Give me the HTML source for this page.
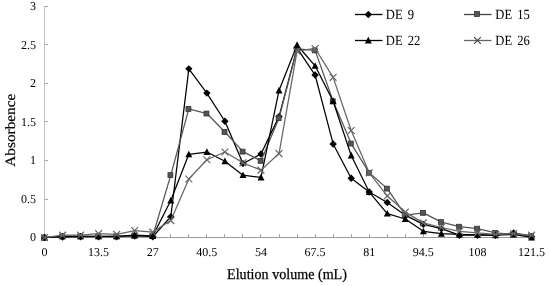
<!DOCTYPE html>
<html><head><meta charset="utf-8"><style>
html,body{margin:0;padding:0;background:#fff;width:550px;height:286px;overflow:hidden}
svg{display:block;text-rendering:geometricPrecision}
.t{font-family:"Liberation Serif",serif;font-size:12px;fill:#000}
.lg{font-family:"Liberation Serif",serif;font-size:14px;fill:#000}
.ttl{font-family:"Liberation Serif",serif;font-size:15px;fill:#000;stroke:#000;stroke-width:0.25px}
.ttl2{font-family:"Liberation Serif",serif;font-size:15.3px;fill:#000;stroke:#000;stroke-width:0.2px}
</style></head><body>
<svg width="550" height="286" viewBox="0 0 550 286">
<line x1="44.5" y1="6" x2="44.5" y2="237.5" stroke="#c4c4c4" stroke-width="1"/>
<line x1="44.5" y1="237.50" x2="48" y2="237.50" stroke="#a8a8a8" stroke-width="1"/>
<line x1="44.5" y1="199.50" x2="48" y2="199.50" stroke="#a8a8a8" stroke-width="1"/>
<line x1="44.5" y1="160.50" x2="48" y2="160.50" stroke="#a8a8a8" stroke-width="1"/>
<line x1="44.5" y1="121.50" x2="48" y2="121.50" stroke="#a8a8a8" stroke-width="1"/>
<line x1="44.5" y1="83.50" x2="48" y2="83.50" stroke="#a8a8a8" stroke-width="1"/>
<line x1="44.5" y1="44.50" x2="48" y2="44.50" stroke="#a8a8a8" stroke-width="1"/>
<line x1="44.5" y1="6.50" x2="48" y2="6.50" stroke="#a8a8a8" stroke-width="1"/>
<text x="36" y="241.20" text-anchor="end" class="t">0</text>
<text x="36" y="202.70" text-anchor="end" class="t">0.5</text>
<text x="36" y="164.20" text-anchor="end" class="t">1</text>
<text x="36" y="125.70" text-anchor="end" class="t">1.5</text>
<text x="36" y="87.20" text-anchor="end" class="t">2</text>
<text x="36" y="48.70" text-anchor="end" class="t">2.5</text>
<text x="36" y="10.20" text-anchor="end" class="t">3</text>
<line x1="44" y1="237.5" x2="533" y2="237.5" stroke="#9a9a9a" stroke-width="1"/>
<line x1="44.50" y1="234" x2="44.50" y2="237" stroke="#a0a0a0" stroke-width="1"/>
<line x1="62.50" y1="234" x2="62.50" y2="237" stroke="#a0a0a0" stroke-width="1"/>
<line x1="80.50" y1="234" x2="80.50" y2="237" stroke="#a0a0a0" stroke-width="1"/>
<line x1="98.50" y1="234" x2="98.50" y2="237" stroke="#a0a0a0" stroke-width="1"/>
<line x1="116.50" y1="234" x2="116.50" y2="237" stroke="#a0a0a0" stroke-width="1"/>
<line x1="134.50" y1="234" x2="134.50" y2="237" stroke="#a0a0a0" stroke-width="1"/>
<line x1="152.50" y1="234" x2="152.50" y2="237" stroke="#a0a0a0" stroke-width="1"/>
<line x1="170.50" y1="234" x2="170.50" y2="237" stroke="#a0a0a0" stroke-width="1"/>
<line x1="188.50" y1="234" x2="188.50" y2="237" stroke="#a0a0a0" stroke-width="1"/>
<line x1="206.50" y1="234" x2="206.50" y2="237" stroke="#a0a0a0" stroke-width="1"/>
<line x1="224.50" y1="234" x2="224.50" y2="237" stroke="#a0a0a0" stroke-width="1"/>
<line x1="242.50" y1="234" x2="242.50" y2="237" stroke="#a0a0a0" stroke-width="1"/>
<line x1="260.50" y1="234" x2="260.50" y2="237" stroke="#a0a0a0" stroke-width="1"/>
<line x1="279.50" y1="234" x2="279.50" y2="237" stroke="#a0a0a0" stroke-width="1"/>
<line x1="297.50" y1="234" x2="297.50" y2="237" stroke="#a0a0a0" stroke-width="1"/>
<line x1="315.50" y1="234" x2="315.50" y2="237" stroke="#a0a0a0" stroke-width="1"/>
<line x1="333.50" y1="234" x2="333.50" y2="237" stroke="#a0a0a0" stroke-width="1"/>
<line x1="351.50" y1="234" x2="351.50" y2="237" stroke="#a0a0a0" stroke-width="1"/>
<line x1="369.50" y1="234" x2="369.50" y2="237" stroke="#a0a0a0" stroke-width="1"/>
<line x1="387.50" y1="234" x2="387.50" y2="237" stroke="#a0a0a0" stroke-width="1"/>
<line x1="405.50" y1="234" x2="405.50" y2="237" stroke="#a0a0a0" stroke-width="1"/>
<line x1="423.50" y1="234" x2="423.50" y2="237" stroke="#a0a0a0" stroke-width="1"/>
<line x1="441.50" y1="234" x2="441.50" y2="237" stroke="#a0a0a0" stroke-width="1"/>
<line x1="459.50" y1="234" x2="459.50" y2="237" stroke="#a0a0a0" stroke-width="1"/>
<line x1="477.50" y1="234" x2="477.50" y2="237" stroke="#a0a0a0" stroke-width="1"/>
<line x1="495.50" y1="234" x2="495.50" y2="237" stroke="#a0a0a0" stroke-width="1"/>
<line x1="513.50" y1="234" x2="513.50" y2="237" stroke="#a0a0a0" stroke-width="1"/>
<line x1="531.50" y1="234" x2="531.50" y2="237" stroke="#a0a0a0" stroke-width="1"/>
<text x="44.50" y="256.4" text-anchor="middle" class="t">0</text>
<text x="98.62" y="256.4" text-anchor="middle" class="t">13.5</text>
<text x="152.74" y="256.4" text-anchor="middle" class="t">27</text>
<text x="206.87" y="256.4" text-anchor="middle" class="t">40.5</text>
<text x="260.99" y="256.4" text-anchor="middle" class="t">54</text>
<text x="315.11" y="256.4" text-anchor="middle" class="t">67.5</text>
<text x="369.23" y="256.4" text-anchor="middle" class="t">81</text>
<text x="423.36" y="256.4" text-anchor="middle" class="t">94.5</text>
<text x="477.48" y="256.4" text-anchor="middle" class="t">108</text>
<text x="531.60" y="256.4" text-anchor="middle" class="t">121.5</text>
<polyline points="44.50,237.50 62.54,237.12 80.58,236.73 98.62,236.73 116.66,236.73 134.70,235.96 152.74,236.73 170.79,216.71 188.83,68.87 206.87,93.12 224.91,121.23 242.95,163.58 260.99,153.95 279.03,116.61 297.07,48.08 315.11,75.03 333.15,143.94 351.19,178.21 369.23,192.07 387.27,202.47 405.31,215.17 423.36,224.41 441.40,228.65 459.44,235.19 477.48,235.19 495.52,235.19 513.56,232.88 531.60,236.73" fill="none" stroke="#000" stroke-width="1.25" stroke-linejoin="round"/>
<path d="M44.50 233.80L48.20 237.50L44.50 241.20L40.80 237.50Z" fill="#000"/>
<path d="M62.54 233.42L66.24 237.12L62.54 240.81L58.84 237.12Z" fill="#000"/>
<path d="M80.58 233.03L84.28 236.73L80.58 240.43L76.88 236.73Z" fill="#000"/>
<path d="M98.62 233.03L102.32 236.73L98.62 240.43L94.92 236.73Z" fill="#000"/>
<path d="M116.66 233.03L120.36 236.73L116.66 240.43L112.96 236.73Z" fill="#000"/>
<path d="M134.70 232.26L138.40 235.96L134.70 239.66L131.00 235.96Z" fill="#000"/>
<path d="M152.74 233.03L156.44 236.73L152.74 240.43L149.04 236.73Z" fill="#000"/>
<path d="M170.79 213.01L174.49 216.71L170.79 220.41L167.09 216.71Z" fill="#000"/>
<path d="M188.83 65.17L192.53 68.87L188.83 72.57L185.13 68.87Z" fill="#000"/>
<path d="M206.87 89.42L210.57 93.12L206.87 96.83L203.17 93.12Z" fill="#000"/>
<path d="M224.91 117.53L228.61 121.23L224.91 124.93L221.21 121.23Z" fill="#000"/>
<path d="M242.95 159.88L246.65 163.58L242.95 167.28L239.25 163.58Z" fill="#000"/>
<path d="M260.99 150.25L264.69 153.95L260.99 157.65L257.29 153.95Z" fill="#000"/>
<path d="M279.03 112.91L282.73 116.61L279.03 120.31L275.33 116.61Z" fill="#000"/>
<path d="M297.07 44.38L300.77 48.08L297.07 51.78L293.37 48.08Z" fill="#000"/>
<path d="M315.11 71.33L318.81 75.03L315.11 78.73L311.41 75.03Z" fill="#000"/>
<path d="M333.15 140.25L336.85 143.94L333.15 147.64L329.45 143.94Z" fill="#000"/>
<path d="M351.19 174.51L354.89 178.21L351.19 181.91L347.49 178.21Z" fill="#000"/>
<path d="M369.23 188.37L372.93 192.07L369.23 195.77L365.53 192.07Z" fill="#000"/>
<path d="M387.27 198.77L390.97 202.47L387.27 206.16L383.57 202.47Z" fill="#000"/>
<path d="M405.31 211.47L409.01 215.17L405.31 218.87L401.61 215.17Z" fill="#000"/>
<path d="M423.36 220.71L427.06 224.41L423.36 228.11L419.66 224.41Z" fill="#000"/>
<path d="M441.40 224.95L445.10 228.65L441.40 232.34L437.70 228.65Z" fill="#000"/>
<path d="M459.44 231.49L463.14 235.19L459.44 238.89L455.74 235.19Z" fill="#000"/>
<path d="M477.48 231.49L481.18 235.19L477.48 238.89L473.78 235.19Z" fill="#000"/>
<path d="M495.52 231.49L499.22 235.19L495.52 238.89L491.82 235.19Z" fill="#000"/>
<path d="M513.56 229.18L517.26 232.88L513.56 236.58L509.86 232.88Z" fill="#000"/>
<path d="M531.60 233.03L535.30 236.73L531.60 240.43L527.90 236.73Z" fill="#000"/>
<polyline points="44.50,237.50 62.54,236.34 80.58,236.34 98.62,236.34 116.66,236.34 134.70,235.96 152.74,235.96 170.79,175.13 188.83,108.91 206.87,113.53 224.91,132.01 242.95,151.64 260.99,160.88 279.03,118.15 297.07,48.85 315.11,50.39 333.15,101.21 351.19,143.56 369.23,172.82 387.27,188.60 405.31,215.17 423.36,212.86 441.40,222.10 459.44,226.72 477.48,228.65 495.52,232.88 513.56,234.42 531.60,235.96" fill="none" stroke="#555" stroke-width="1.25" stroke-linejoin="round"/>
<rect x="41.65" y="235.05" width="4.90" height="4.90" fill="#555" stroke="#333" stroke-width="0.8"/>
<rect x="59.69" y="233.90" width="4.90" height="4.90" fill="#555" stroke="#333" stroke-width="0.8"/>
<rect x="77.73" y="233.90" width="4.90" height="4.90" fill="#555" stroke="#333" stroke-width="0.8"/>
<rect x="95.77" y="233.90" width="4.90" height="4.90" fill="#555" stroke="#333" stroke-width="0.8"/>
<rect x="113.81" y="233.90" width="4.90" height="4.90" fill="#555" stroke="#333" stroke-width="0.8"/>
<rect x="131.85" y="233.51" width="4.90" height="4.90" fill="#555" stroke="#333" stroke-width="0.8"/>
<rect x="149.89" y="233.51" width="4.90" height="4.90" fill="#555" stroke="#333" stroke-width="0.8"/>
<rect x="167.94" y="172.68" width="4.90" height="4.90" fill="#555" stroke="#333" stroke-width="0.8"/>
<rect x="185.98" y="106.46" width="4.90" height="4.90" fill="#555" stroke="#333" stroke-width="0.8"/>
<rect x="204.02" y="111.08" width="4.90" height="4.90" fill="#555" stroke="#333" stroke-width="0.8"/>
<rect x="222.06" y="129.56" width="4.90" height="4.90" fill="#555" stroke="#333" stroke-width="0.8"/>
<rect x="240.10" y="149.19" width="4.90" height="4.90" fill="#555" stroke="#333" stroke-width="0.8"/>
<rect x="258.14" y="158.44" width="4.90" height="4.90" fill="#555" stroke="#333" stroke-width="0.8"/>
<rect x="276.18" y="115.70" width="4.90" height="4.90" fill="#555" stroke="#333" stroke-width="0.8"/>
<rect x="294.22" y="46.40" width="4.90" height="4.90" fill="#555" stroke="#333" stroke-width="0.8"/>
<rect x="312.26" y="47.94" width="4.90" height="4.90" fill="#555" stroke="#333" stroke-width="0.8"/>
<rect x="330.30" y="98.76" width="4.90" height="4.90" fill="#555" stroke="#333" stroke-width="0.8"/>
<rect x="348.34" y="141.11" width="4.90" height="4.90" fill="#555" stroke="#333" stroke-width="0.8"/>
<rect x="366.38" y="170.37" width="4.90" height="4.90" fill="#555" stroke="#333" stroke-width="0.8"/>
<rect x="384.42" y="186.16" width="4.90" height="4.90" fill="#555" stroke="#333" stroke-width="0.8"/>
<rect x="402.46" y="212.72" width="4.90" height="4.90" fill="#555" stroke="#333" stroke-width="0.8"/>
<rect x="420.51" y="210.41" width="4.90" height="4.90" fill="#555" stroke="#333" stroke-width="0.8"/>
<rect x="438.55" y="219.65" width="4.90" height="4.90" fill="#555" stroke="#333" stroke-width="0.8"/>
<rect x="456.59" y="224.27" width="4.90" height="4.90" fill="#555" stroke="#333" stroke-width="0.8"/>
<rect x="474.63" y="226.20" width="4.90" height="4.90" fill="#555" stroke="#333" stroke-width="0.8"/>
<rect x="492.67" y="230.43" width="4.90" height="4.90" fill="#555" stroke="#333" stroke-width="0.8"/>
<rect x="510.71" y="231.97" width="4.90" height="4.90" fill="#555" stroke="#333" stroke-width="0.8"/>
<rect x="528.75" y="233.51" width="4.90" height="4.90" fill="#555" stroke="#333" stroke-width="0.8"/>
<polyline points="44.50,237.50 62.54,236.34 80.58,236.34 98.62,236.34 116.66,236.34 134.70,235.19 152.74,235.96 170.79,200.54 188.83,154.34 206.87,152.03 224.91,161.27 242.95,175.13 260.99,177.44 279.03,90.43 297.07,45.00 315.11,65.79 333.15,101.21 351.19,155.50 369.23,192.07 387.27,213.63 405.31,219.02 423.36,231.34 441.40,233.65 459.44,234.42 477.48,234.81 495.52,235.19 513.56,234.42 531.60,237.50" fill="none" stroke="#000" stroke-width="1.25" stroke-linejoin="round"/>
<path d="M44.50 233.84L48.00 240.49L41.00 240.49Z" fill="#000"/>
<path d="M62.54 232.69L66.04 239.34L59.04 239.34Z" fill="#000"/>
<path d="M80.58 232.69L84.08 239.34L77.08 239.34Z" fill="#000"/>
<path d="M98.62 232.69L102.12 239.34L95.12 239.34Z" fill="#000"/>
<path d="M116.66 232.69L120.16 239.34L113.16 239.34Z" fill="#000"/>
<path d="M134.70 231.53L138.20 238.18L131.20 238.18Z" fill="#000"/>
<path d="M152.74 232.30L156.24 238.95L149.24 238.95Z" fill="#000"/>
<path d="M170.79 196.88L174.29 203.53L167.29 203.53Z" fill="#000"/>
<path d="M188.83 150.68L192.33 157.33L185.33 157.33Z" fill="#000"/>
<path d="M206.87 148.37L210.37 155.02L203.37 155.02Z" fill="#000"/>
<path d="M224.91 157.61L228.41 164.26L221.41 164.26Z" fill="#000"/>
<path d="M242.95 171.47L246.45 178.12L239.45 178.12Z" fill="#000"/>
<path d="M260.99 173.78L264.49 180.43L257.49 180.43Z" fill="#000"/>
<path d="M279.03 86.77L282.53 93.42L275.53 93.42Z" fill="#000"/>
<path d="M297.07 41.34L300.57 47.99L293.57 47.99Z" fill="#000"/>
<path d="M315.11 62.13L318.61 68.78L311.61 68.78Z" fill="#000"/>
<path d="M333.15 97.55L336.65 104.20L329.65 104.20Z" fill="#000"/>
<path d="M351.19 151.84L354.69 158.49L347.69 158.49Z" fill="#000"/>
<path d="M369.23 188.41L372.73 195.06L365.73 195.06Z" fill="#000"/>
<path d="M387.27 209.97L390.77 216.62L383.77 216.62Z" fill="#000"/>
<path d="M405.31 215.36L408.81 222.01L401.81 222.01Z" fill="#000"/>
<path d="M423.36 227.68L426.86 234.33L419.86 234.33Z" fill="#000"/>
<path d="M441.40 229.99L444.90 236.64L437.90 236.64Z" fill="#000"/>
<path d="M459.44 230.76L462.94 237.41L455.94 237.41Z" fill="#000"/>
<path d="M477.48 231.15L480.98 237.80L473.98 237.80Z" fill="#000"/>
<path d="M495.52 231.53L499.02 238.18L492.02 238.18Z" fill="#000"/>
<path d="M513.56 230.76L517.06 237.41L510.06 237.41Z" fill="#000"/>
<path d="M531.60 233.84L535.10 240.49L528.10 240.49Z" fill="#000"/>
<polyline points="44.50,237.50 62.54,235.19 80.58,235.19 98.62,233.65 116.66,234.42 134.70,230.57 152.74,232.11 170.79,220.56 188.83,178.98 206.87,159.73 224.91,152.03 242.95,162.81 260.99,170.12 279.03,153.57 297.07,51.16 315.11,48.47 333.15,77.34 351.19,130.47 369.23,172.82 387.27,195.92 405.31,212.09 423.36,222.87 441.40,227.49 459.44,231.34 477.48,232.88 495.52,234.42 513.56,233.65 531.60,235.19" fill="none" stroke="#666666" stroke-width="1.25" stroke-linejoin="round"/>
<path d="M41.10 234.10L47.90 240.90M41.10 240.90L47.90 234.10" stroke="#666666" stroke-width="1.20" fill="none"/>
<path d="M59.14 231.79L65.94 238.59M59.14 238.59L65.94 231.79" stroke="#666666" stroke-width="1.20" fill="none"/>
<path d="M77.18 231.79L83.98 238.59M77.18 238.59L83.98 231.79" stroke="#666666" stroke-width="1.20" fill="none"/>
<path d="M95.22 230.25L102.02 237.05M95.22 237.05L102.02 230.25" stroke="#666666" stroke-width="1.20" fill="none"/>
<path d="M113.26 231.02L120.06 237.82M113.26 237.82L120.06 231.02" stroke="#666666" stroke-width="1.20" fill="none"/>
<path d="M131.30 227.17L138.10 233.97M131.30 233.97L138.10 227.17" stroke="#666666" stroke-width="1.20" fill="none"/>
<path d="M149.34 228.71L156.14 235.51M149.34 235.51L156.14 228.71" stroke="#666666" stroke-width="1.20" fill="none"/>
<path d="M167.39 217.16L174.19 223.96M167.39 223.96L174.19 217.16" stroke="#666666" stroke-width="1.20" fill="none"/>
<path d="M185.43 175.58L192.23 182.38M185.43 182.38L192.23 175.58" stroke="#666666" stroke-width="1.20" fill="none"/>
<path d="M203.47 156.33L210.27 163.13M203.47 163.13L210.27 156.33" stroke="#666666" stroke-width="1.20" fill="none"/>
<path d="M221.51 148.63L228.31 155.43M221.51 155.43L228.31 148.63" stroke="#666666" stroke-width="1.20" fill="none"/>
<path d="M239.55 159.41L246.35 166.21M239.55 166.21L246.35 159.41" stroke="#666666" stroke-width="1.20" fill="none"/>
<path d="M257.59 166.72L264.39 173.53M257.59 173.53L264.39 166.72" stroke="#666666" stroke-width="1.20" fill="none"/>
<path d="M275.63 150.17L282.43 156.97M275.63 156.97L282.43 150.17" stroke="#666666" stroke-width="1.20" fill="none"/>
<path d="M293.67 47.76L300.47 54.56M293.67 54.56L300.47 47.76" stroke="#666666" stroke-width="1.20" fill="none"/>
<path d="M311.71 45.07L318.51 51.87M311.71 51.87L318.51 45.07" stroke="#666666" stroke-width="1.20" fill="none"/>
<path d="M329.75 73.94L336.55 80.74M329.75 80.74L336.55 73.94" stroke="#666666" stroke-width="1.20" fill="none"/>
<path d="M347.79 127.07L354.59 133.87M347.79 133.87L354.59 127.07" stroke="#666666" stroke-width="1.20" fill="none"/>
<path d="M365.83 169.42L372.63 176.22M365.83 176.22L372.63 169.42" stroke="#666666" stroke-width="1.20" fill="none"/>
<path d="M383.87 192.52L390.67 199.32M383.87 199.32L390.67 192.52" stroke="#666666" stroke-width="1.20" fill="none"/>
<path d="M401.91 208.69L408.71 215.49M401.91 215.49L408.71 208.69" stroke="#666666" stroke-width="1.20" fill="none"/>
<path d="M419.96 219.47L426.76 226.27M419.96 226.27L426.76 219.47" stroke="#666666" stroke-width="1.20" fill="none"/>
<path d="M438.00 224.09L444.80 230.89M438.00 230.89L444.80 224.09" stroke="#666666" stroke-width="1.20" fill="none"/>
<path d="M456.04 227.94L462.84 234.74M456.04 234.74L462.84 227.94" stroke="#666666" stroke-width="1.20" fill="none"/>
<path d="M474.08 229.48L480.88 236.28M474.08 236.28L480.88 229.48" stroke="#666666" stroke-width="1.20" fill="none"/>
<path d="M492.12 231.02L498.92 237.82M492.12 237.82L498.92 231.02" stroke="#666666" stroke-width="1.20" fill="none"/>
<path d="M510.16 230.25L516.96 237.05M510.16 237.05L516.96 230.25" stroke="#666666" stroke-width="1.20" fill="none"/>
<path d="M528.20 231.79L535.00 238.59M528.20 238.59L535.00 231.79" stroke="#666666" stroke-width="1.20" fill="none"/>
<line x1="355.00" y1="14.50" x2="382.50" y2="14.50" stroke="#000" stroke-width="1.3"/>
<path d="M368.30 10.80L372.00 14.50L368.30 18.20L364.60 14.50Z" fill="#000"/>
<line x1="355.00" y1="40.50" x2="382.50" y2="40.50" stroke="#000" stroke-width="1.3"/>
<path d="M368.30 36.84L371.80 43.49L364.80 43.49Z" fill="#000"/>
<line x1="464.00" y1="14.50" x2="491.50" y2="14.50" stroke="#444" stroke-width="1.3"/>
<rect x="474.55" y="11.55" width="4.90" height="4.90" fill="#555" stroke="#333" stroke-width="0.8"/>
<line x1="464.00" y1="40.50" x2="491.50" y2="40.50" stroke="#666" stroke-width="1.3"/>
<path d="M474.00 37.10L480.80 43.90M474.00 43.90L480.80 37.10" stroke="#444" stroke-width="1.20" fill="none"/>
<g transform="translate(385.80,18.70) scale(0.9,1)"><text x="0" y="0" class="lg">DE</text><text x="24.33" y="0" class="lg">9</text></g>
<g transform="translate(385.80,44.70) scale(0.9,1)"><text x="0" y="0" class="lg">DE</text><text x="24.33" y="0" class="lg">22</text></g>
<g transform="translate(495.30,18.70) scale(0.9,1)"><text x="0" y="0" class="lg">DE</text><text x="24.33" y="0" class="lg">15</text></g>
<g transform="translate(495.30,44.70) scale(0.9,1)"><text x="0" y="0" class="lg">DE</text><text x="24.33" y="0" class="lg">26</text></g>
<g transform="translate(287,278.6) scale(0.94,1)"><text x="0" y="0" text-anchor="middle" class="ttl">Elution volume (mL)</text></g>
<g transform="translate(14.8,130.2) rotate(-90) scale(1,0.93)"><text x="0" y="0" text-anchor="middle" class="ttl2">Absorbence</text></g>
</svg>
</body></html>
